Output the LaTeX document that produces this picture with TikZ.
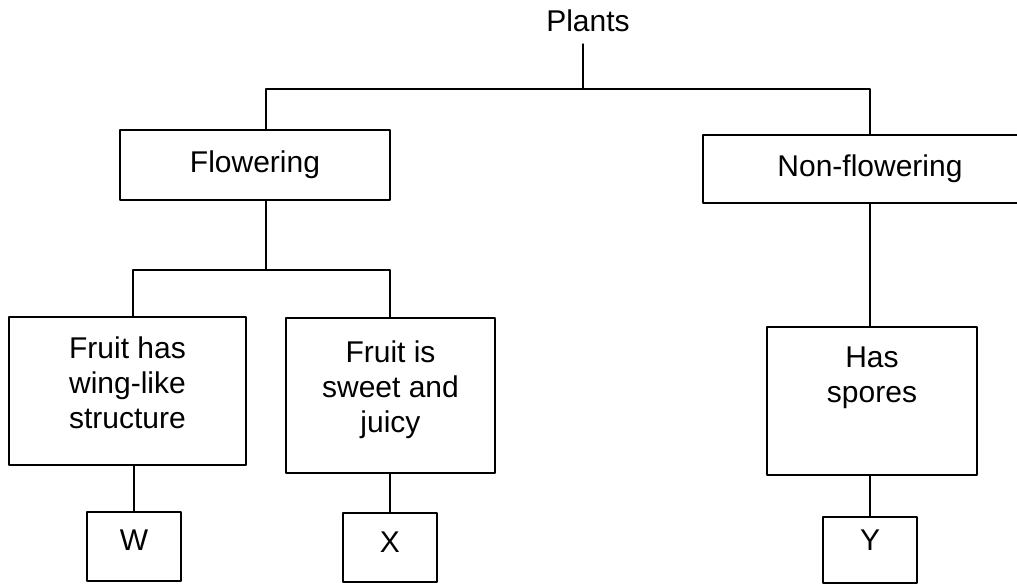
\documentclass[tikz,border=0pt]{standalone}
\usepackage{fontspec}
\setmainfont{Liberation Sans}
\begin{document}
\begin{tikzpicture}[x=1pt,y=1pt,line width=1.6pt,line cap=round,line join=round,
		txt/.style={font=\fontsize{30}{35}\selectfont},
		box/.style={txt,draw,inner sep=0pt,align=center}]
	\useasboundingbox (0,0) rectangle (1017,-585);
	\clip (0,0) rectangle (1017,-585);
	\node[txt,inner sep=0pt,anchor=base] (plants) at (588,-32) {Plants};
	\node[box,minimum width=270pt,minimum height=70pt] (flower) at (255,-165) {Flowering};
	\node[box,minimum width=334pt,minimum height=68pt] (nonflower) at (870,-169) {Non-flowering};
	\node[box,minimum width=237pt,minimum height=148pt] (wing) at (127.5,-391) {Fruit has\\wing-like\\structure\\[-19pt]\mbox{}};
	\node[box,minimum width=209pt,minimum height=155pt] (sweet) at (390.5,-395.5) {Fruit is\\sweet and\\juicy\\[-18pt]\mbox{}};
	\node[box,minimum width=210pt,minimum height=148pt] (spores) at (872,-401) {Has\\spores\\[18pt]\mbox{}};
	\node[box,minimum width=94pt,minimum height=69pt,text depth=12pt] (wbox) at (134,-546.5) {W};
	\node[box,minimum width=94pt,minimum height=69pt,text depth=10pt] (xbox) at (390,-547.5) {X};
	\node[box,minimum width=94pt,minimum height=66pt,text depth=20pt] (ybox) at (870,-550) {Y};
	% forks
	\coordinate (fork) at (583,-89);
	\coordinate (barL) at (266,-89);
	\coordinate (barR) at (870,-89);
	\coordinate (subL) at (133,-270);
	\coordinate (subR) at (390,-270);
	\draw ([shift={(-5pt,-11pt)}]plants.south) -- (fork);
	\draw (barL |- flower.north) -- (barL) -- (barR) -- (barR |- nonflower.north);
	\draw (barL |- flower.south) -- (barL |- subL);
	\draw (subL |- wing.north) -- (subL) -- (subR) -- (subR |- sweet.north);
	\draw (wing.south -| wbox.north) -- (wbox.north);
	\draw (sweet.south -| xbox.north) -- (xbox.north);
	\draw (nonflower.south) -- (nonflower.south |- spores.north);
	\draw (spores.south -| ybox.north) -- (ybox.north);
\end{tikzpicture}
\end{document}
